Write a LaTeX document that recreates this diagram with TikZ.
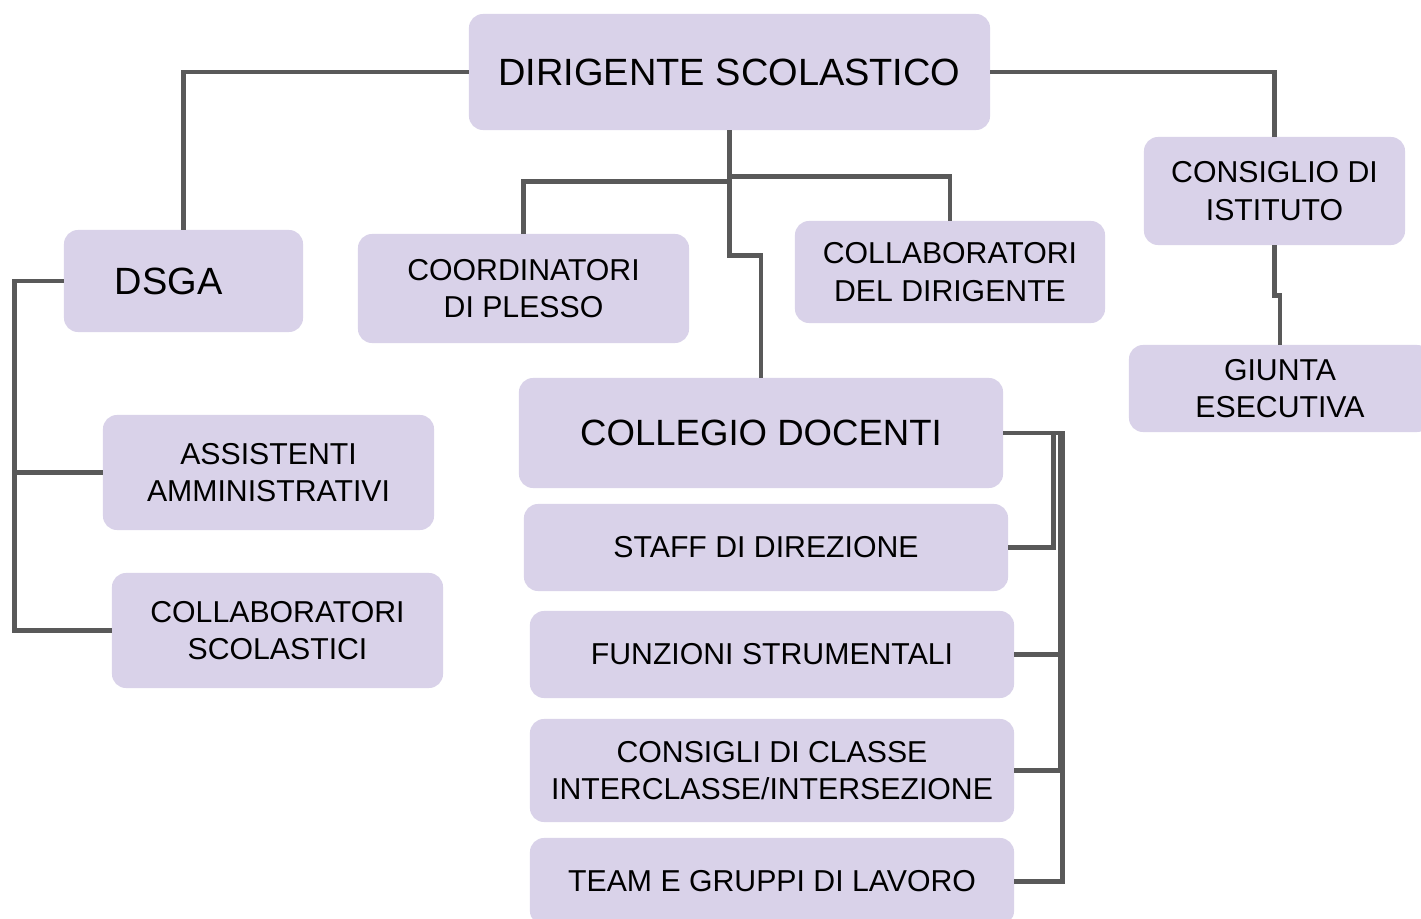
\documentclass[tikz,border=0pt]{standalone}
\usepackage{fontspec}
\setmainfont{Liberation Sans}
\definecolor{lilac}{HTML}{D9D2E9}
\definecolor{wire}{HTML}{595959}
\newcommand{\smalltext}{\fontsize{21.5}{26.5}\selectfont}
\newcommand{\bigtext}{\fontsize{27}{32}\selectfont}
\begin{document}
\begin{tikzpicture}[x=0.025cm, y=-0.025cm,
	box/.style={rounded corners=10pt,fill=lilac,inner sep=0pt,align=center,font=\smalltext},
	wired/.style={draw=wire,line width=3.2pt}]

	\useasboundingbox (0,0) rectangle (1421,919);
	\fill[white] (0,0) rectangle (1421,919);

	\node[box, minimum width=13.025cm, minimum height=2.9cm, font=\bigtext] (dir) at (729.5,72) {DIRIGENTE SCOLASTICO};
	\node[box, minimum height=2.55cm, text width=3.425cm, inner xsep=1.275cm, align=left, font=\bigtext] (dsga) at (183.5,281) {DSGA};
	\node[box, minimum width=8.275cm, minimum height=2.725cm] (coord) at (523.5,288.5) {COORDINATORI\\DI PLESSO};
	\node[box, minimum width=7.75cm, minimum height=2.55cm] (colldir) at (950,272) {COLLABORATORI\\DEL DIRIGENTE};
	\node[box, minimum width=6.525cm, minimum height=2.7cm] (consiglio) at (1274.5,191) {CONSIGLIO DI\\ISTITUTO};
	\node[box, minimum width=7.55cm, minimum height=2.175cm] (giunta) at (1280,388.5) {GIUNTA\\ESECUTIVA};

	\node[box, minimum width=8.275cm, minimum height=2.875cm] (assist) at (268.5,472.5) {ASSISTENTI\\AMMINISTRATIVI};
	\node[box, minimum width=8.275cm, minimum height=2.875cm] (collscol) at (277.5,630.5) {COLLABORATORI\\SCOLASTICI};

	\node[box, minimum width=12.1cm, minimum height=2.75cm, font=\fontsize{26}{31}\selectfont] (collegio) at (761,433) {COLLEGIO DOCENTI};
	\node[box, minimum width=12.1cm, minimum height=2.175cm] (staff) at (766,547.5) {STAFF DI DIREZIONE};
	\node[box, minimum width=12.1cm, minimum height=2.175cm] (funz) at (772,654.5) {FUNZIONI STRUMENTALI};
	\node[box, minimum width=12.1cm, minimum height=2.575cm] (consigli) at (772,770.5) {CONSIGLI DI CLASSE\\INTERCLASSE/INTERSEZIONE};
	\node[box, minimum width=12.1cm, minimum height=2.175cm] (team) at (772,881.5) {TEAM E GRUPPI DI LAVORO};

	\draw[wired] (dir.west) -| (dsga.north);
	\draw[wired] (dir.east) -| (consiglio.north);
	\draw[wired] (dir.south) -- ++(0,51) -| (coord.north);
	\draw[wired] (dir.south) -- ++(0,46) -| (colldir.north);
	\draw[wired] (dir.south) -- ++(0,125) -| (collegio.north);
	\draw[wired] (consiglio.south) -- ++(0,50) -| (giunta.north);

	\draw[wired] (dsga.west) -- ++(-49,0) |- (assist.west);
	\draw[wired] (dsga.west) -- ++(-49,0) |- (collscol.west);

	\draw[wired] (collegio.east) -- ++(50,0) |- (staff.east);
	\draw[wired] (collegio.east) -- ++(57,0) |- (funz.east);
	\draw[wired] (collegio.east) -- ++(57,0) |- (consigli.east);
	\draw[wired] (collegio.east) -- ++(59,0) |- (team.east);

\end{tikzpicture}
\end{document}
